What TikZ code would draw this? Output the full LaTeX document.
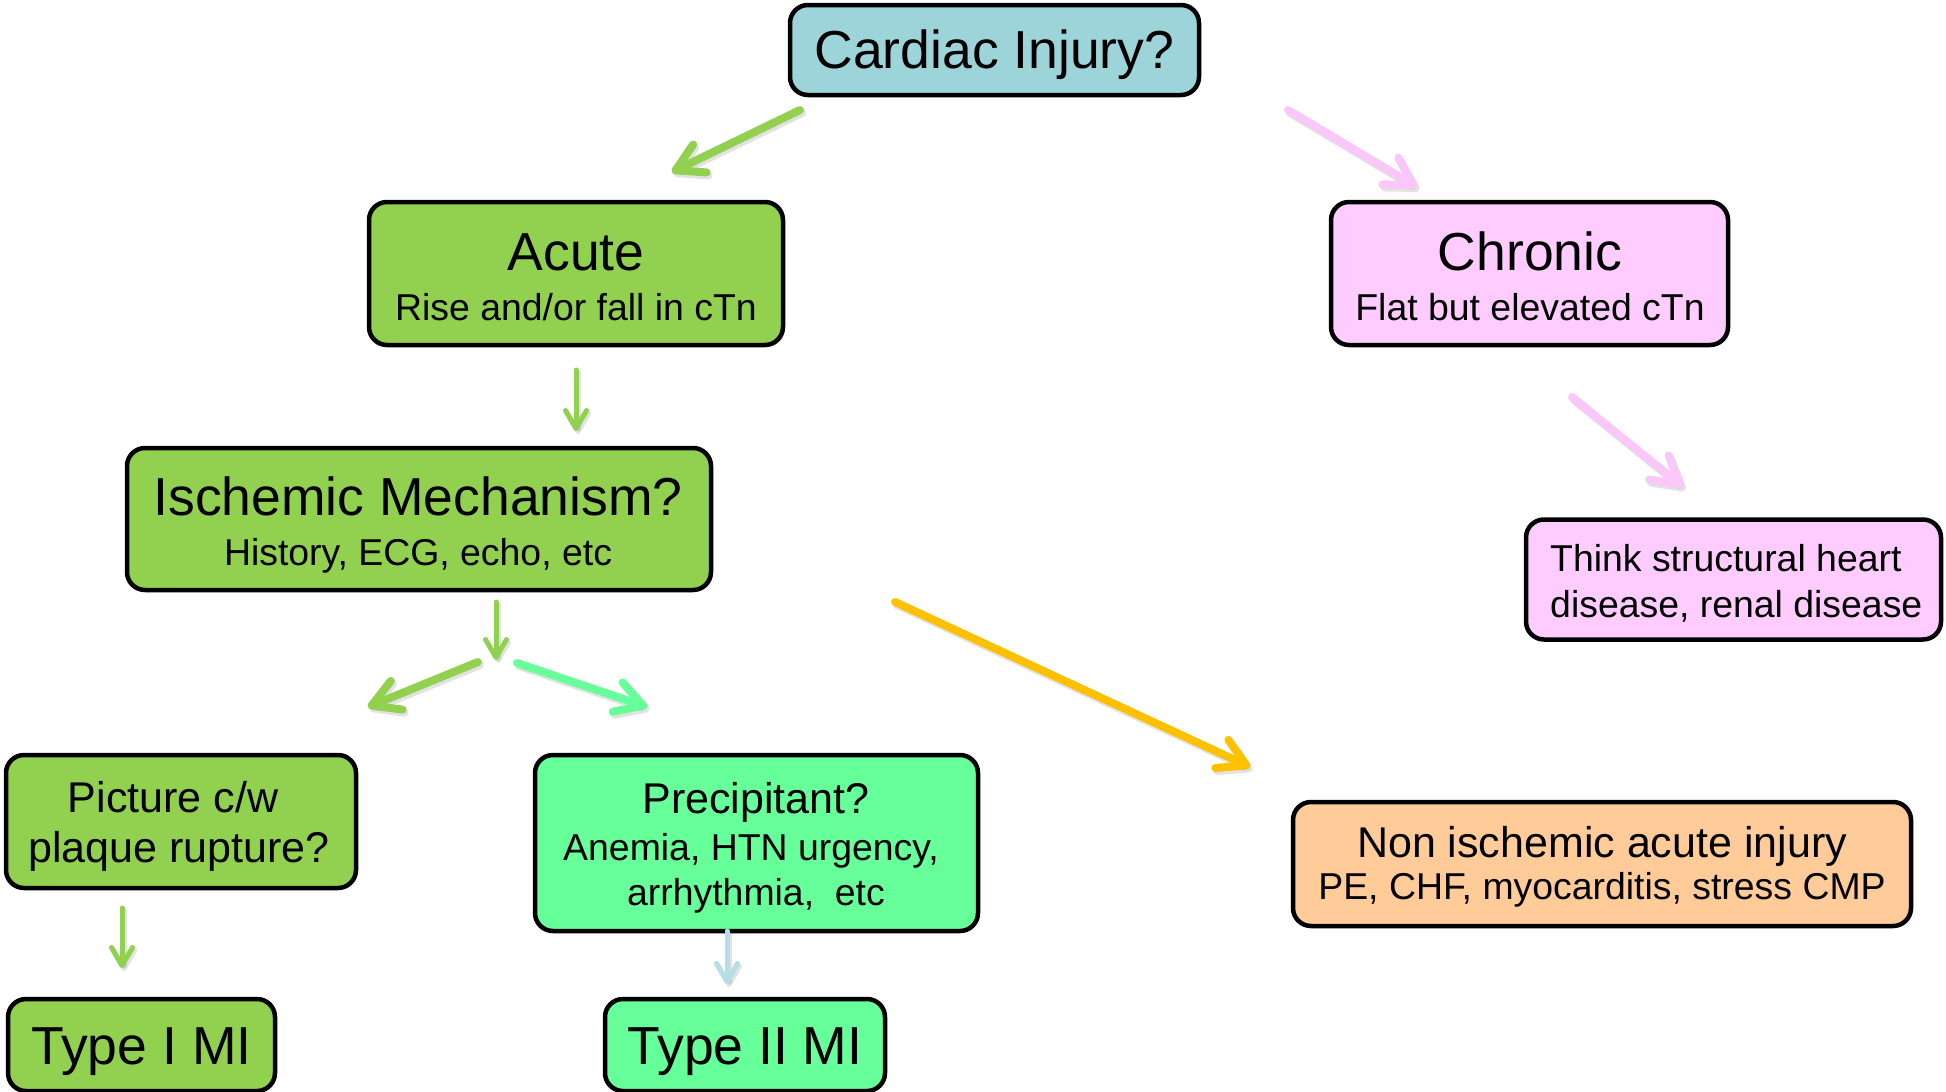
\documentclass[tikz,border=0pt]{standalone}
\usepackage{fontspec}
\setmainfont{Liberation Sans}
\usetikzlibrary{arrows.meta}
\definecolor{tealbox}{HTML}{9DD4D9}
\definecolor{greenbox}{HTML}{92D050}
\definecolor{mintbox}{HTML}{66FF99}
\definecolor{pinkbox}{HTML}{FFCCFF}
\definecolor{peachbox}{HTML}{FFCC99}
\definecolor{orangearr}{HTML}{FFC000}
\definecolor{pinkarr}{HTML}{FBC6FA}
\definecolor{bluearr}{HTML}{B7DEE8}
\begin{document}
\begin{tikzpicture}[x=1pt,y=-1pt,
  box/.style={draw=black, line width=4.5pt, rounded corners=18pt, inner sep=0pt},
  big/.style={font=\fontsize{53.5}{60}\selectfont, anchor=base, inner sep=0pt},
  mid/.style={font=\fontsize{43}{50}\selectfont, anchor=base, inner sep=0pt},
  small/.style={font=\fontsize{37.4}{45}\selectfont, anchor=base, inner sep=0pt},
  smallw/.style={small, anchor=base west},
  bigarr/.style={line width=8pt, line cap=round, -{Straight Barb[length=27pt,width=31pt,round]}},
  smallarr/.style={line width=5pt, line cap=round, -{Straight Barb[length=18pt,width=21pt,round]}},
  shadowarr/.style={draw=black!45, opacity=0.25, transform canvas={shift={(2pt,-3pt)}}},
]
\useasboundingbox (0,0) rectangle (1946,1092);
\fill[white] (0,0) rectangle (1946,1092);

% boxes
\node[box, fill=tealbox, minimum width=409pt, minimum height=90pt] (cardiac) at (994.5,50) {};
\node[box, fill=greenbox, minimum width=414pt, minimum height=143pt] (acute) at (576,273.5) {};
\node[box, fill=pinkbox, minimum width=397pt, minimum height=143pt] (chronic) at (1529.5,273.5) {};
\node[box, fill=greenbox, minimum width=584pt, minimum height=142pt] (ischemic) at (419,519) {};
\node[box, fill=pinkbox, minimum width=415pt, minimum height=120pt] (think) at (1733.5,579.5) {};
\node[box, fill=greenbox, minimum width=350pt, minimum height=133pt] (picture) at (181,821.5) {};
\node[box, fill=mintbox, minimum width=443pt, minimum height=176pt] (precip) at (756.5,843) {};
\node[box, fill=peachbox, minimum width=618pt, minimum height=124pt] (nonisch) at (1602,864) {};
\node[box, fill=greenbox, minimum width=267pt, minimum height=92pt] (typeone) at (141.5,1045) {};
\node[box, fill=mintbox, minimum width=280pt, minimum height=92pt] (typetwo) at (745,1045) {};

% texts
\node[big] (cardiacT) at (994.5,68) {Cardiac Injury?};
\node[big] (acuteT) at (576,270) {Acute};
\node[small] (acuteS) at (576,320) {Rise and/or fall in cTn};
\node[big] (chronicT) at (1530,270) {Chronic};
\node[small] (chronicS) at (1530,320) {Flat but elevated cTn};
\node[big] (ischemicT) at (418,515) {Ischemic Mechanism?};
\node[small] (ischemicS) at (418,565) {History, ECG, echo, etc};
\node[smallw] (thinkA) at (1550,571) {Think structural heart};
\node[smallw] (thinkB) at (1550,617) {disease, renal disease};
\node[mid] (pictureA) at (173,812) {Picture c/w};
\node[mid] (pictureB) at (179,862) {plaque rupture?};
\node[mid] (precipT) at (756,813) {Precipitant?};
\node[small] (precipA) at (751,860) {Anemia, HTN urgency,};
\node[small] (precipB) at (756,905) {arrhythmia,\ \ etc};
\node[mid] (nonischT) at (1602,857) {Non ischemic acute injury};
\node[small] (nonischS) at (1602,899) {PE, CHF, myocarditis, stress CMP};
\node[big] (typeoneT) at (141.5,1064) {Type I MI};
\node[big] (typetwoT) at (745,1064) {Type II MI};

% arrow end points
\coordinate (a1s) at (800,110);  \coordinate (a1e) at (672,172);
\coordinate (a2s) at (1288,110); \coordinate (a2e) at (1417,187);
\coordinate (a3s) at (576,370);  \coordinate (a3e) at (576,431);
\coordinate (a4s) at (1572,397); \coordinate (a4e) at (1683,487);
\coordinate (a5s) at (496,602);  \coordinate (a5e) at (496,660);
\coordinate (a6s) at (478,662);  \coordinate (a6e) at (368,707);
\coordinate (a7s) at (517,663);  \coordinate (a7e) at (647,707);
\coordinate (a8s) at (895,602);  \coordinate (a8e) at (1250,767);
\coordinate (a9s) at (122,908);  \coordinate (a9e) at (122,968);
\coordinate (a10s) at (727,931); \coordinate (a10e) at (727,984);

% shadows
\draw[bigarr, shadowarr] (a1s) -- (a1e);
\draw[bigarr, shadowarr] (a2s) -- (a2e);
\draw[smallarr, shadowarr] (a3s) -- (a3e);
\draw[bigarr, shadowarr] (a4s) -- (a4e);
\draw[smallarr, shadowarr] (a5s) -- (a5e);
\draw[bigarr, shadowarr] (a6s) -- (a6e);
\draw[bigarr, shadowarr] (a7s) -- (a7e);
\draw[bigarr, shadowarr] (a8s) -- (a8e);
\draw[smallarr, shadowarr] (a9s) -- (a9e);
\draw[smallarr, shadowarr] (a10s) -- (a10e);

% arrows
\draw[bigarr, greenbox] (a1s) -- (a1e);
\draw[bigarr, pinkarr] (a2s) -- (a2e);
\draw[smallarr, greenbox] (a3s) -- (a3e);
\draw[bigarr, pinkarr] (a4s) -- (a4e);
\draw[smallarr, greenbox] (a5s) -- (a5e);
\draw[bigarr, greenbox] (a6s) -- (a6e);
\draw[bigarr, mintbox] (a7s) -- (a7e);
\draw[bigarr, orangearr] (a8s) -- (a8e);
\draw[smallarr, greenbox] (a9s) -- (a9e);
\draw[smallarr, bluearr] (a10s) -- (a10e);
\end{tikzpicture}
\end{document}
